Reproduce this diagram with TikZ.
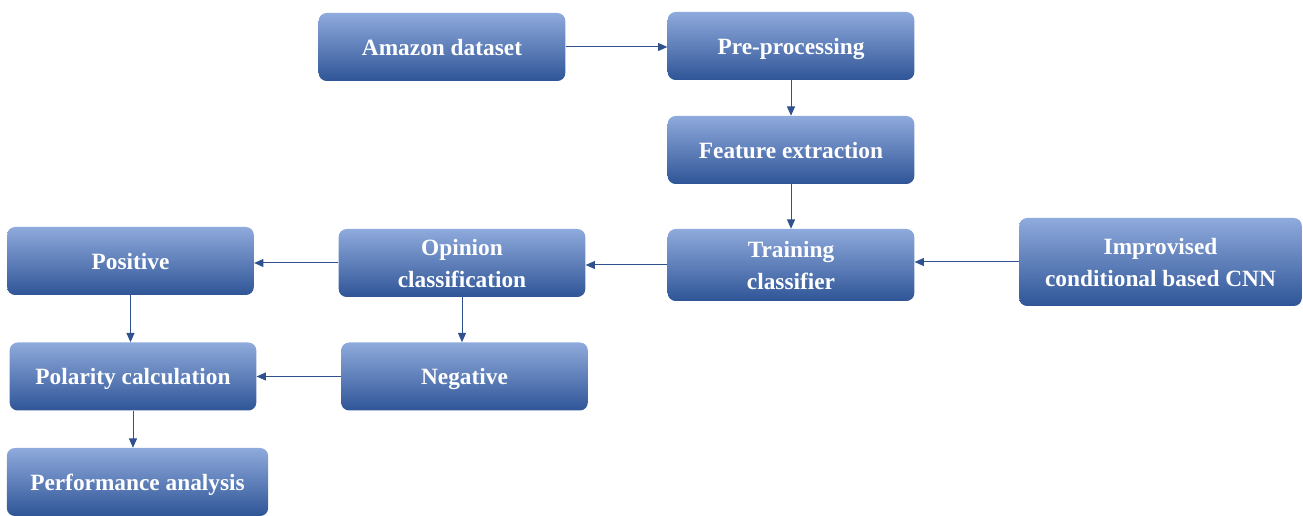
\documentclass[tikz,border=0pt]{standalone}
\usepackage{fontspec}
\setmainfont{Liberation Serif}
\usetikzlibrary{arrows.meta}
\definecolor{boxtop}{RGB}{143,170,220}
\definecolor{boxmid}{RGB}{68,114,196}
\definecolor{boxbot}{RGB}{47,85,151}
\definecolor{linkcol}{RGB}{47,82,143}
\tikzset{
  stagebox/.style={rounded corners=6pt, top color=boxtop, middle color=boxmid, bottom color=boxbot,
    minimum width=185pt, minimum height=51pt, inner sep=0.75pt, align=center, text=white,
    text depth=0pt, font=\fontsize{17.5}{24}\selectfont\bfseries},
  link/.style={draw=linkcol, line width=0.75pt, -{Triangle[length=7pt,width=6pt]}}
}
\begin{document}
\begin{tikzpicture}[x=0.75pt,y=0.75pt,yscale=-1,xscale=1]
	\useasboundingbox (0,0) rectangle (1303,516);

	% Text Node
	\node [stagebox] (amazon) at (442,47) {Amazon dataset};
	% Text Node
	\node [stagebox] (prep) at (791,46) {Pre-processing};
	% Text Node
	\node [stagebox] (feat) at (791,150) {Feature extraction};
	% Text Node
	\node [stagebox, minimum height=54pt] (train) at (791,265) {Training\\classifier};
	% Text Node
	\node [stagebox, minimum width=212pt, minimum height=66pt] (cnn) at (1160.5,262) {Improvised\\conditional based CNN};
	% Text Node
	\node [stagebox] (opin) at (462,263) {Opinion\\classification};
	% Text Node
	\node [stagebox] (pos) at (130.5,261) {Positive};
	% Text Node
	\node [stagebox] (neg) at (464.5,376.5) {Negative};
	% Text Node
	\node [stagebox] (pol) at (133,376.5) {Polarity calculation};
	% Text Node
	\node [stagebox, minimum width=196pt] (perf) at (137.5,482) {Performance analysis};

	%Straight Lines
	\draw [link] (amazon.east) -- (prep.west |- amazon.east);
	\draw [link] (prep.south) -- (feat.north);
	\draw [link] (feat.south) -- (train.north);
	\draw [link] (cnn.west) -- (train.east |- cnn.west);
	\draw [link] (train.west) -- (opin.east |- train.west);
	\draw [link] (opin.west) -- (pos.east |- opin.west);
	\draw [link] (opin.south) -- (opin.south |- neg.north);
	\draw [link] (pos.south) -- (pos.south |- pol.north);
	\draw [link] (neg.west) -- (pol.east |- neg.west);
	\draw [link] (pol.south) -- (pol.south |- perf.north);

\end{tikzpicture}
\end{document}
